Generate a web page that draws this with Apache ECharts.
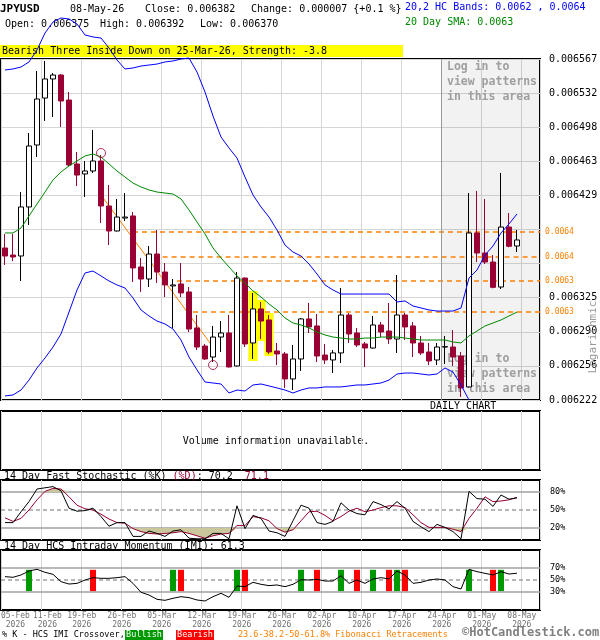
<!DOCTYPE html>
<html>
<head>
<meta charset="utf-8">
<script src="https://cdn.jsdelivr.net/npm/echarts@6/dist/echarts.min.js"></script>
<style>
html, body { margin: 0; padding: 0; background: #fff; }
#chart { width: 600px; height: 640px; }
</style>
</head>
<body>
<div id="chart"></div>
<script>
var MONO = '"DejaVu Sans Mono", "Liberation Mono", monospace';
var RED = '#990033';

// trading days (2026)
var dates = ['05-Feb','06-Feb','09-Feb','10-Feb','11-Feb','12-Feb','13-Feb','17-Feb','18-Feb','19-Feb',
  '20-Feb','23-Feb','24-Feb','25-Feb','26-Feb','27-Feb','02-Mar','03-Mar','04-Mar','05-Mar',
  '06-Mar','09-Mar','10-Mar','11-Mar','12-Mar','13-Mar','16-Mar','17-Mar','18-Mar','19-Mar',
  '20-Mar','23-Mar','24-Mar','25-Mar','26-Mar','27-Mar','30-Mar','31-Mar','01-Apr','02-Apr',
  '06-Apr','07-Apr','08-Apr','09-Apr','10-Apr','13-Apr','14-Apr','15-Apr','16-Apr','17-Apr',
  '20-Apr','21-Apr','22-Apr','23-Apr','24-Apr','27-Apr','28-Apr','29-Apr','30-Apr','01-May',
  '04-May','05-May','06-May','07-May','08-May'];
// days that carry an axis label
var labelDays = [0, 4, 9, 14, 19, 24, 29, 34, 39, 44, 49, 54, 59, 64];

var opens = [0.0063758,0.0063687,0.0063677,0.0064173,0.0064800,0.0065275,0.0065468,0.0065508,0.0065255,0.0064608,
  0.0064507,0.0064537,0.0064638,0.0064183,0.0063930,0.0064061,0.0064082,0.0063566,0.0063444,0.0063697,
  0.0063515,0.0063374,0.0063394,0.0063313,0.0062949,0.0062766,0.0062655,0.0062857,0.0062898,0.0062564,
  0.0063454,0.0062797,0.0063141,0.0063030,0.0062716,0.0062686,0.0062433,0.0062635,0.0063040,0.0062969,
  0.0062675,0.0062625,0.0062696,0.0063080,0.0062898,0.0062787,0.0062746,0.0062979,0.0062918,0.0062837,
  0.0063080,0.0062969,0.0062797,0.0062706,0.0062625,0.0062756,0.0062756,0.0062665,0.0062352,0.0063910,
  0.0063707,0.0063616,0.0063363,0.0063970,0.0063778];
var highs = [0.0063900,0.0063900,0.0064324,0.0064921,0.0065549,0.0065650,0.0065528,0.0065518,0.0065336,0.0064729,
  0.0064638,0.0064952,0.0064699,0.0064395,0.0064254,0.0064314,0.0064122,0.0063657,0.0063778,0.0063940,
  0.0063606,0.0063444,0.0063606,0.0063363,0.0063080,0.0062787,0.0062969,0.0063019,0.0063080,0.0063515,
  0.0063460,0.0063303,0.0063212,0.0063080,0.0062797,0.0062706,0.0062777,0.0063050,0.0063202,0.0063090,
  0.0062787,0.0062726,0.0063353,0.0063100,0.0062949,0.0062807,0.0063070,0.0063009,0.0063202,0.0063485,
  0.0063100,0.0063009,0.0062868,0.0062797,0.0062797,0.0062868,0.0062928,0.0062706,0.0064314,0.0064335,
  0.0064254,0.0063687,0.0064517,0.0064112,0.0063940];
var lows = [0.0063586,0.0063626,0.0063424,0.0063991,0.0064679,0.0065043,0.0065083,0.0064982,0.0064577,0.0064385,
  0.0064274,0.0064517,0.0064011,0.0063788,0.0063925,0.0064031,0.0063414,0.0063313,0.0063363,0.0063404,
  0.0063262,0.0062949,0.0063262,0.0062908,0.0062726,0.0062625,0.0062604,0.0062706,0.0062550,0.0062560,
  0.0062756,0.0062635,0.0062837,0.0062686,0.0062574,0.0062342,0.0062321,0.0062514,0.0062898,0.0062604,
  0.0062584,0.0062493,0.0062594,0.0062797,0.0062756,0.0062554,0.0062740,0.0062857,0.0062787,0.0062696,
  0.0062827,0.0062655,0.0062675,0.0062574,0.0062574,0.0062584,0.0062564,0.0062251,0.0062345,0.0063616,
  0.0063596,0.0063350,0.0063343,0.0063765,0.0063717];
var closes = [0.0063677,0.0063667,0.0064173,0.0064790,0.0065265,0.0065468,0.0065508,0.0065245,0.0064598,0.0064496,
  0.0064537,0.0064638,0.0064183,0.0063930,0.0064071,0.0064071,0.0063556,0.0063444,0.0063697,0.0063515,
  0.0063384,0.0063384,0.0063303,0.0062938,0.0062756,0.0062635,0.0062857,0.0062898,0.0062554,0.0063454,
  0.0062787,0.0063141,0.0063019,0.0062706,0.0062686,0.0062433,0.0062635,0.0063040,0.0062959,0.0062665,
  0.0062625,0.0062696,0.0063080,0.0062888,0.0062777,0.0062746,0.0062979,0.0062908,0.0062837,0.0063080,
  0.0062959,0.0062797,0.0062696,0.0062615,0.0062756,0.0062760,0.0062655,0.0062342,0.0063910,0.0063707,
  0.0063616,0.0063360,0.0063970,0.0063775,0.0063839];

// 20,2 HC bands and 20 day SMA
var bandUpper = [0.0065559,0.0065569,0.0065589,0.0065640,0.0065761,0.0065933,0.0066044,0.0066085,0.0066075,0.0066024,
  0.0065913,0.0065893,0.0065882,0.0065781,0.0065660,0.0065569,0.0065579,0.0065599,0.0065609,0.0065619,
  0.0065640,0.0065650,0.0065670,0.0065680,0.0065538,0.0065336,0.0065093,0.0064881,0.0064770,0.0064668,
  0.0064476,0.0064294,0.0064173,0.0064071,0.0063940,0.0063788,0.0063717,0.0063677,0.0063596,0.0063495,
  0.0063384,0.0063333,0.0063292,0.0063292,0.0063292,0.0063292,0.0063292,0.0063292,0.0063292,0.0063212,
  0.0063222,0.0063171,0.0063151,0.0063131,0.0063120,0.0063120,0.0063120,0.0063151,0.0063454,0.0063535,
  0.0063687,0.0063778,0.0063910,0.0064001,0.0064102];
var bandLower = [0.0062261,0.0062271,0.0062321,0.0062422,0.0062544,0.0062645,0.0062756,0.0062888,0.0063110,0.0063333,
  0.0063505,0.0063525,0.0063475,0.0063424,0.0063384,0.0063353,0.0063252,0.0063131,0.0063070,0.0063019,
  0.0062989,0.0062938,0.0062827,0.0062655,0.0062524,0.0062402,0.0062392,0.0062382,0.0062291,0.0062321,
  0.0062311,0.0062372,0.0062382,0.0062362,0.0062342,0.0062321,0.0062291,0.0062321,0.0062342,0.0062342,
  0.0062352,0.0062352,0.0062352,0.0062362,0.0062372,0.0062372,0.0062382,0.0062392,0.0062422,0.0062483,
  0.0062493,0.0062493,0.0062483,0.0062473,0.0062483,0.0062544,0.0062503,0.0062372,0.0062220,null,
  null,null,null,null,null];
var sma20 = [0.0063910,0.0063910,0.0063960,0.0064082,0.0064203,0.0064324,0.0064446,0.0064527,0.0064588,0.0064638,
  0.0064689,0.0064709,0.0064679,0.0064608,0.0064537,0.0064476,0.0064415,0.0064375,0.0064345,0.0064324,
  0.0064314,0.0064304,0.0064254,0.0064142,0.0064021,0.0063900,0.0063758,0.0063657,0.0063566,0.0063475,
  0.0063404,0.0063323,0.0063262,0.0063191,0.0063131,0.0063050,0.0062999,0.0062979,0.0062949,0.0062908,
  0.0062878,0.0062857,0.0062847,0.0062837,0.0062837,0.0062847,0.0062847,0.0062857,0.0062857,0.0062857,
  0.0062847,0.0062837,0.0062827,0.0062827,0.0062827,0.0062827,0.0062807,0.0062797,0.0062868,0.0062918,
  0.0062969,0.0062999,0.0063030,0.0063070,0.0063110];

// oscillators (%)
var stochK = [29,29,47,64,85,87,89,82,53,48, 49,53,39,23,29,29,6,6,15,11, 6,15,17,3,2,2,11,11,2,57,
  19,41,36,15,12,6,32,58,53,29, 26,31,62,50,44,42,64,59,52,64, 53,31,22,14,26,21,14,2,81,69, 68,56,75,68,70.2];
var stochD = [37,31,36,50,67,81,86,85,72,58, 52,50,43,35,29,28,19,14,11,10, 11,12,14,11,7,3,7,10,11,24,
  24,39,37,32,19,13,17,32,47,48, 41,32,39,48,53,47,50,54,57,57, 54,42,29,21,21,21,18,14,36,53, 72,64,65,67,71.1];
var imi = [55.6,54.5,58.4,65,67.8,62.8,59.5,47.2,43.3,44.4, 50,53.9,52.8,52.8,53.9,55.6,44.4,29.5,25,17.8,
  16.1,19.5,22.2,20.6,16.7,15,22.2,27.8,21.1,40, 38.9,46.1,42.8,40.6,41.7,38.9,42.8,50.5,50,51.1,
  48.3,48.3,57.2,44.4,50,44.4,51.7,53.9,51.7,65, 58.4,44.4,46.1,50,51.7,50,38.9,35,67.8,63.9, 61.1,58.4,63.9,60,61.3];
var bullishCross = [3, 21, 29, 37, 42, 46, 49, 58, 62];
var bearishCross = [11, 22, 30, 39, 44, 48, 50, 61];
var crossRange = [67, 31.5];
var stochLevels = [80, 50, 20];
var imiLevels = [70, 50, 30];

// price axis
var priceMin = 0.006222, priceMax = 0.006567, priceStep = 0.0000345;
var priceTicks = ['0.006222','0.006256','0.006290','0.006325','','','0.006429','0.006463','0.006498','0.006532','0.006567'];

// fibonacci retracements and pattern marks
var fibLevels = [0.006392, 0.0063667, 0.0063424, 0.006311];
var fibFrom = [16, 19.7, 21.5, 23.5];
var fibLabels = ['0.0064', '0.0064', '0.0063', '0.0063'];
var fibTrend = [[12, 0.0064294], [26, 0.0062756]];
var patternMarks = [[12, 0.0064719], [26, 0.0062574]];
var patternDays = [31, 32, 33];
var hiddenFrom = 54.5;

var xMin = -0.5, xMax = 66.875;

var chart = echarts.init(document.getElementById('chart'));

// label anchor: just right of the week boundary; the first two are nudged so they do not collide
function labelAt(i) {
  if (i === 0) return 1.3;
  if (i === 4) return 5.3;
  return i + 0.6;
}

function xAxisFor(g, withLabels) {
  var ax = {
    type: 'value', gridIndex: g, min: xMin, max: xMax, interval: 5,
    axisLine: { show: false }, axisTick: { show: false },
    splitLine: { show: true, lineStyle: { color: '#d6d6d6', width: 1 } },
    axisLabel: { show: false }
  };
  if (withLabels) {
    ax.axisLabel = {
      show: true, showMinLabel: true, showMaxLabel: true, hideOverlap: false,
      customValues: labelDays.map(labelAt),
      margin: 1, color: '#707070', fontFamily: MONO, fontSize: 8, lineHeight: 9.5,
      formatter: function (v) {
        for (var k = 0; k < labelDays.length; k++) {
          if (Math.abs(labelAt(labelDays[k]) - v) < 0.01) return dates[labelDays[k]] + '\n2026';
        }
        return '';
      }
    };
  }
  return ax;
}

function gridBox(top, height) {
  return { left: 1, top: top, width: 539, height: height, show: true, borderColor: '#000', borderWidth: 2,
    containLabel: false, outerBoundsMode: 'none' };
}

function levelLines(levels) {
  return {
    silent: true, symbol: ['none', 'none'], z: 1,
    label: { show: true, position: 'end', distance: 10, fontFamily: MONO, fontSize: 8.5, color: '#000',
      formatter: function (p) { return p.value + '%'; } },
    data: levels.map(function (v, k) {
      return { yAxis: v, lineStyle: { color: '#a0a0a0', width: 1.5, type: k === 1 ? [4, 3] : 'solid' } };
    })
  };
}

function idx(arr) {
  return arr.map(function (v, i) { return [i, v]; }).filter(function (p) { return p[1] != null; });
}

function crossSeries(days, color) {
  return {
    type: 'custom', xAxisIndex: 3, yAxisIndex: 3, z: 2, silent: true,
    data: days.map(function (i) { return [i, crossRange[0], crossRange[1]]; }),
    encode: { x: 0, y: [1, 2] },
    renderItem: function (params, api) {
      var a = api.coord([api.value(0), api.value(1)]);
      var b = api.coord([api.value(0), api.value(2)]);
      return { type: 'rect', shape: { x: a[0] - 3, y: a[1], width: 6, height: b[1] - a[1] }, style: { fill: color } };
    }
  };
}

// shading between %D and an overbought / oversold level
function stochShade(level, beyond) {
  return {
    type: 'line', xAxisIndex: 2, yAxisIndex: 2, showSymbol: false, silent: true, z: 1,
    data: idx(stochD.map(beyond)), lineStyle: { opacity: 0 },
    areaStyle: { color: '#c9c79b', opacity: 1, origin: level }
  };
}

function txt(x, y, text, opt) {
  opt = opt || {};
  return {
    type: 'text', x: x, y: y, z: opt.z || 0, rotation: opt.rotation || 0, silent: true,
    style: {
      text: text, fill: opt.color || '#000', fontFamily: MONO, fontSize: opt.size || 10,
      fontWeight: opt.weight || 'normal', align: opt.align || 'left', verticalAlign: 'middle',
      lineHeight: opt.lineHeight, rich: opt.rich
    }
  };
}

var option = {
  animation: false,
  backgroundColor: '#fff',
  grid: [gridBox(59, 341), gridBox(411, 59), gridBox(480, 60), gridBox(550, 60)],
  xAxis: [xAxisFor(0), xAxisFor(1), xAxisFor(2), xAxisFor(3, true)],
  yAxis: [
    {
      type: 'value', gridIndex: 0, position: 'right', min: priceMin, max: priceMax, interval: priceStep,
      axisLine: { show: false }, axisTick: { show: false },
      splitLine: { show: true, lineStyle: { color: '#d6d6d6', width: 1 } },
      axisLabel: {
        margin: 9, color: '#000', fontFamily: MONO, fontSize: 10, padding: [0, 0, 5, 0],
        formatter: function (v) { return priceTicks[Math.round((v - priceMin) / priceStep)] || ''; }
      }
    },
    { type: 'value', gridIndex: 1, min: 0, max: 1, show: false },
    { type: 'value', gridIndex: 2, min: 0, max: 100, show: false },
    { type: 'value', gridIndex: 3, min: 0, max: 100, show: false }
  ],
  graphic: [
    txt(0, 9, 'JPYUSD', { weight: 'bold', size: 11 }),
    txt(70, 9, '08-May-26'),
    txt(145, 9, 'Close: 0.006382'),
    txt(251, 9, 'Change: 0.000007 {+0.1 %}'),
    txt(405, 7, '20,2 HC Bands: 0.0062 , 0.0064', { color: '#0000ff' }),
    txt(5, 24, 'Open: 0.006375'),
    txt(100, 24, 'High: 0.006392'),
    txt(200, 24, 'Low: 0.006370'),
    txt(405, 22, '20 Day SMA: 0.0063', { color: '#008800' }),
    { type: 'rect', z: 0, silent: true, shape: { x: 0, y: 45, width: 403, height: 12 }, style: { fill: '#ffff00' } },
    txt(2, 51.5, 'Bearish Three Inside Down on 25-Mar-26, Strength: -3.8'),
    txt(447, 82, 'Log in to\nview patterns\nin this area', { z: 1, color: '#a8a8a8', weight: 'bold', size: 11.5, lineHeight: 15 }),
    txt(447, 374, 'Log in to\nview patterns\nin this area', { z: 1, color: '#a8a8a8', weight: 'bold', size: 11.5, lineHeight: 15 }),
    txt(430, 406, 'DAILY CHART'),
    txt(593, 337, 'Logarithmic', { rotation: Math.PI / 2, align: 'center', color: '#999999', size: 11, z: 6 }),
    txt(276, 441, 'Volume information unavailable.', { align: 'center' }),
    txt(4, 476, '{k|14 Day Fast Stochastic (%K) }{d|(%D)}{k|: 70.2  }{d|71.1}', {
      rich: { k: { fill: '#000', fontFamily: MONO, fontSize: 10 }, d: { fill: RED, fontFamily: MONO, fontSize: 10 } }
    }),
    txt(4, 546, '14 Day HCS Intraday Momentum (IMI): 61.3'),
    txt(2, 635, '% K - HCS IMI Crossover,', { size: 8.5 }),
    { type: 'rect', z: 0, silent: true, shape: { x: 125, y: 630, width: 38, height: 10 }, style: { fill: '#009900' } },
    txt(144, 635, 'Bullish', { size: 8.5, color: '#fff', align: 'center' }),
    { type: 'rect', z: 0, silent: true, shape: { x: 176, y: 630, width: 38, height: 10 }, style: { fill: '#ff0000' } },
    txt(195, 635, 'Bearish', { size: 8.5, color: '#fff', align: 'center' }),
    txt(238, 635, '23.6-38.2-50-61.8% Fibonacci Retracements', { size: 8.5, color: '#ff8000' }),
    txt(462, 633, '\u00a9HotCandlestick.com', { size: 12, color: '#808080', weight: 'bold' })
  ],
  series: [
    {
      name: 'pattern', type: 'custom', xAxisIndex: 0, yAxisIndex: 0, z: 3, silent: true,
      data: patternDays.map(function (i) { return [i, highs[i], lows[i]]; }),
      encode: { x: 0, y: [1, 2] },
      renderItem: function (params, api) {
        var top = api.coord([api.value(0), api.value(1)]);
        var bottom = api.coord([api.value(0), api.value(2)]);
        var w = api.size([1, 0])[0] * 1.15;
        return { type: 'rect', shape: { x: top[0] - w / 2, y: top[1] - 2, width: w, height: bottom[1] - top[1] + 4 },
          style: { fill: '#ffff00' } };
      }
    },
    {
      name: 'JPYUSD', type: 'candlestick', xAxisIndex: 0, yAxisIndex: 0, z: 4, barWidth: 6,
      data: dates.map(function (d, i) { return [i, opens[i], closes[i], lows[i], highs[i]]; }),
      itemStyle: { color: '#ffffff', color0: RED, borderColor: '#000000', borderColor0: RED, borderWidth: 1 },
      markArea: {
        silent: true, z: 1,
        itemStyle: { color: 'rgba(0,0,0,0.05)' },
        data: [[{ xAxis: hiddenFrom }, { xAxis: xMax }]]
      },
      markLine: {
        silent: true, symbol: ['none', 'none'], z: 3.5,
        label: { show: false },
        data: fibLevels.map(function (v, k) {
          return [
            { coord: [fibFrom[k], v],
              lineStyle: { color: '#ff8000', width: 1.5, type: [5, 4] },
              label: { show: true, position: 'end', distance: 5, formatter: fibLabels[k], color: '#ff8000',
                fontFamily: MONO, fontSize: 8 } },
            { coord: [xMax, v] }
          ];
        }).concat([
          [{ coord: fibTrend[0], lineStyle: { color: '#ff8000', width: 1, type: 'solid' } }, { coord: fibTrend[1] }],
          [{ coord: [hiddenFrom, priceMax], lineStyle: { color: '#999999', width: 1, type: 'solid' } }, { coord: [hiddenFrom, priceMin] }]
        ])
      }
    },
    {
      name: 'upper', type: 'line', xAxisIndex: 0, yAxisIndex: 0, z: 5, clip: false, showSymbol: false, silent: true,
      data: idx(bandUpper), lineStyle: { color: '#0000ff', width: 1 }
    },
    {
      name: 'lower', type: 'line', xAxisIndex: 0, yAxisIndex: 0, z: 5, showSymbol: false, silent: true,
      data: idx(bandLower), lineStyle: { color: '#0000ff', width: 1 }
    },
    {
      name: 'sma', type: 'line', xAxisIndex: 0, yAxisIndex: 0, z: 5, showSymbol: false, silent: true,
      data: idx(sma20), lineStyle: { color: '#008800', width: 1 }
    },
    {
      name: 'marks', type: 'scatter', xAxisIndex: 0, yAxisIndex: 0, z: 6, silent: true,
      data: patternMarks, symbol: 'circle', symbolSize: 9,
      itemStyle: { color: 'rgba(0,0,0,0)', borderColor: RED, borderWidth: 1 }
    },
    stochShade(80, function (v) { return Math.max(v, 80); }),
    stochShade(20, function (v) { return Math.min(v, 20); }),
    {
      name: '%D', type: 'line', xAxisIndex: 2, yAxisIndex: 2, z: 3, showSymbol: false, silent: true,
      data: idx(stochD), lineStyle: { color: RED, width: 1 }
    },
    {
      name: '%K', type: 'line', xAxisIndex: 2, yAxisIndex: 2, z: 4, showSymbol: false, silent: true,
      data: idx(stochK), lineStyle: { color: '#000', width: 1 },
      markLine: levelLines(stochLevels)
    },
    crossSeries(bullishCross, '#009900'),
    crossSeries(bearishCross, '#ff0000'),
    {
      name: 'IMI', type: 'line', xAxisIndex: 3, yAxisIndex: 3, z: 4, showSymbol: false, silent: true,
      data: idx(imi), lineStyle: { color: '#000', width: 1 },
      markLine: levelLines(imiLevels)
    }
  ]
};

chart.setOption(option);
</script>
</body>
</html>
